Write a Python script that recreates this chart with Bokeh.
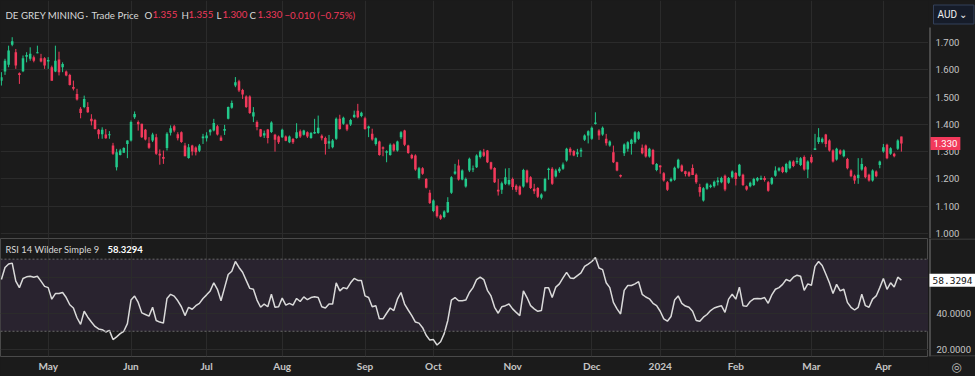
from bokeh.plotting import figure
from bokeh.layouts import column, row
from bokeh.models import (Range1d, FixedTicker, BoxAnnotation, Span, Label,
                          ColumnDataSource)
from bokeh.core.properties import value
from bokeh.embed import file_html
from bokeh.resources import INLINE

# ---------------- data ----------------
opens = [
    1.560, 1.593, 1.618, 1.691, 1.664, 1.587, 1.594, 1.647, 1.640, 1.646,
    1.660, 1.642, 1.642, 1.630, 1.609, 1.593, 1.637, 1.609, 1.593, 1.581,
    1.537, 1.511, 1.457, 1.463, 1.463, 1.420, 1.416, 1.380, 1.364, 1.363,
    1.360, 1.322, 1.243, 1.288, 1.296, 1.328, 1.341, 1.426, 1.408, 1.402,
    1.380, 1.331, 1.341, 1.353, 1.292, 1.280, 1.313, 1.369, 1.393, 1.364,
    1.371, 1.322, 1.277, 1.322, 1.315, 1.303, 1.349, 1.349, 1.371, 1.377,
    1.393, 1.352, 1.376, 1.420, 1.461, 1.542, 1.558, 1.526, 1.502, 1.502,
    1.429, 1.408, 1.382, 1.359, 1.381, 1.372, 1.362, 1.355, 1.353, 1.355,
    1.334, 1.346, 1.350, 1.375, 1.362, 1.371, 1.350, 1.366, 1.368, 1.358,
    1.350, 1.330, 1.316, 1.347, 1.420, 1.402, 1.398, 1.399, 1.426, 1.450,
    1.430, 1.422, 1.386, 1.365, 1.328, 1.337, 1.316, 1.296, 1.288, 1.326,
    1.304, 1.353, 1.377, 1.322, 1.288, 1.286, 1.203, 1.239, 1.200, 1.149,
    1.082, 1.100, 1.066, 1.060, 1.078, 1.149, 1.219, 1.249, 1.198, 1.172,
    1.231, 1.234, 1.243, 1.280, 1.298, 1.304, 1.261, 1.240, 1.160, 1.160,
    1.182, 1.180, 1.200, 1.175, 1.172, 1.172, 1.231, 1.206, 1.164, 1.167,
    1.131, 1.157, 1.233, 1.237, 1.209, 1.228, 1.237, 1.267, 1.310, 1.302,
    1.290, 1.300, 1.343, 1.359, 1.347, 1.401, 1.377, 1.363, 1.347, 1.322,
    1.298, 1.261, 1.214, 1.294, 1.310, 1.328, 1.334, 1.347, 1.314, 1.322,
    1.282, 1.306, 1.233, 1.249, 1.221, 1.188, 1.192, 1.197, 1.241, 1.249,
    1.228, 1.224, 1.240, 1.215, 1.170, 1.121, 1.164, 1.170, 1.173, 1.188,
    1.188, 1.212, 1.186, 1.206, 1.222, 1.212, 1.215, 1.173, 1.173, 1.178,
    1.194, 1.198, 1.203, 1.188, 1.182, 1.212, 1.231, 1.243, 1.225, 1.239,
    1.264, 1.261, 1.251, 1.280, 1.234, 1.280, 1.306, 1.335, 1.335, 1.363,
    1.341, 1.304, 1.271, 1.304, 1.283, 1.273, 1.231, 1.212, 1.203, 1.234,
    1.243, 1.215, 1.194, 1.227, 1.251, 1.300, 1.325, 1.292, 1.292, 1.310,
    1.355,
]
highs = [
    1.591, 1.640, 1.688, 1.719, 1.676, 1.590, 1.652, 1.664, 1.682, 1.652,
    1.688, 1.658, 1.646, 1.646, 1.615, 1.688, 1.666, 1.627, 1.597, 1.585,
    1.560, 1.530, 1.463, 1.505, 1.481, 1.437, 1.420, 1.383, 1.389, 1.383,
    1.375, 1.332, 1.310, 1.310, 1.316, 1.341, 1.414, 1.447, 1.414, 1.402,
    1.383, 1.353, 1.369, 1.365, 1.308, 1.304, 1.371, 1.396, 1.398, 1.371,
    1.374, 1.332, 1.328, 1.325, 1.319, 1.328, 1.365, 1.371, 1.383, 1.420,
    1.398, 1.359, 1.398, 1.465, 1.487, 1.573, 1.563, 1.530, 1.506, 1.506,
    1.463, 1.414, 1.383, 1.377, 1.383, 1.411, 1.365, 1.359, 1.384, 1.359,
    1.359, 1.350, 1.404, 1.381, 1.380, 1.374, 1.372, 1.420, 1.432, 1.363,
    1.355, 1.361, 1.346, 1.425, 1.435, 1.428, 1.402, 1.420, 1.450, 1.475,
    1.446, 1.428, 1.395, 1.384, 1.352, 1.340, 1.319, 1.305, 1.330, 1.330,
    1.340, 1.375, 1.380, 1.325, 1.292, 1.290, 1.244, 1.243, 1.203, 1.160,
    1.125, 1.104, 1.070, 1.085, 1.133, 1.210, 1.255, 1.271, 1.235, 1.205,
    1.278, 1.249, 1.290, 1.305, 1.310, 1.306, 1.263, 1.243, 1.200, 1.190,
    1.238, 1.240, 1.205, 1.180, 1.176, 1.237, 1.234, 1.210, 1.182, 1.170,
    1.147, 1.204, 1.241, 1.243, 1.237, 1.243, 1.260, 1.314, 1.316, 1.306,
    1.310, 1.314, 1.363, 1.378, 1.392, 1.444, 1.382, 1.392, 1.365, 1.341,
    1.322, 1.263, 1.216, 1.330, 1.338, 1.347, 1.375, 1.375, 1.326, 1.326,
    1.314, 1.310, 1.258, 1.250, 1.225, 1.192, 1.205, 1.245, 1.274, 1.253,
    1.230, 1.228, 1.253, 1.220, 1.182, 1.170, 1.186, 1.180, 1.194, 1.206,
    1.208, 1.216, 1.207, 1.231, 1.225, 1.255, 1.219, 1.176, 1.190, 1.204,
    1.207, 1.212, 1.210, 1.192, 1.207, 1.246, 1.243, 1.246, 1.259, 1.268,
    1.268, 1.279, 1.280, 1.286, 1.268, 1.289, 1.365, 1.386, 1.352, 1.365,
    1.345, 1.308, 1.314, 1.308, 1.308, 1.277, 1.235, 1.216, 1.276, 1.276,
    1.247, 1.219, 1.235, 1.231, 1.267, 1.328, 1.329, 1.316, 1.296, 1.345,
    1.355,
]
lows = [
    1.542, 1.581, 1.609, 1.686, 1.603, 1.548, 1.591, 1.627, 1.633, 1.627,
    1.660, 1.627, 1.603, 1.603, 1.560, 1.591, 1.579, 1.591, 1.576, 1.542,
    1.524, 1.487, 1.422, 1.459, 1.442, 1.396, 1.381, 1.347, 1.347, 1.347,
    1.347, 1.288, 1.231, 1.286, 1.296, 1.276, 1.337, 1.420, 1.377, 1.350,
    1.341, 1.310, 1.335, 1.288, 1.252, 1.255, 1.304, 1.359, 1.371, 1.341,
    1.332, 1.283, 1.274, 1.286, 1.286, 1.298, 1.328, 1.337, 1.359, 1.374,
    1.359, 1.340, 1.361, 1.418, 1.457, 1.536, 1.518, 1.493, 1.460, 1.438,
    1.408, 1.378, 1.353, 1.350, 1.330, 1.368, 1.300, 1.328, 1.350, 1.338,
    1.331, 1.328, 1.347, 1.350, 1.359, 1.350, 1.347, 1.365, 1.365, 1.341,
    1.289, 1.310, 1.312, 1.343, 1.380, 1.398, 1.375, 1.394, 1.424, 1.422,
    1.426, 1.380, 1.353, 1.340, 1.322, 1.285, 1.283, 1.261, 1.285, 1.300,
    1.300, 1.346, 1.320, 1.292, 1.272, 1.230, 1.198, 1.215, 1.165, 1.108,
    1.078, 1.058, 1.050, 1.056, 1.075, 1.145, 1.215, 1.194, 1.195, 1.168,
    1.225, 1.225, 1.240, 1.275, 1.280, 1.258, 1.233, 1.185, 1.139, 1.145,
    1.178, 1.176, 1.160, 1.152, 1.140, 1.168, 1.184, 1.163, 1.145, 1.130,
    1.125, 1.153, 1.197, 1.178, 1.205, 1.222, 1.233, 1.263, 1.286, 1.283,
    1.280, 1.280, 1.339, 1.330, 1.343, 1.399, 1.343, 1.358, 1.322, 1.318,
    1.258, 1.228, 1.205, 1.284, 1.300, 1.289, 1.329, 1.343, 1.290, 1.278,
    1.278, 1.251, 1.228, 1.219, 1.190, 1.156, 1.188, 1.193, 1.237, 1.225,
    1.209, 1.207, 1.214, 1.182, 1.135, 1.117, 1.160, 1.166, 1.168, 1.176,
    1.184, 1.155, 1.182, 1.202, 1.176, 1.208, 1.174, 1.157, 1.169, 1.174,
    1.190, 1.196, 1.190, 1.153, 1.178, 1.208, 1.227, 1.221, 1.221, 1.235,
    1.243, 1.255, 1.247, 1.230, 1.203, 1.257, 1.306, 1.328, 1.330, 1.316,
    1.300, 1.260, 1.267, 1.288, 1.279, 1.235, 1.206, 1.182, 1.182, 1.230,
    1.202, 1.190, 1.190, 1.206, 1.239, 1.296, 1.272, 1.288, 1.279, 1.306,
    1.300,
]
closes = [
    1.572, 1.633, 1.670, 1.704, 1.615, 1.581, 1.642, 1.654, 1.658, 1.633,
    1.664, 1.630, 1.615, 1.636, 1.560, 1.633, 1.591, 1.621, 1.579, 1.544,
    1.530, 1.491, 1.441, 1.493, 1.444, 1.411, 1.383, 1.364, 1.380, 1.349,
    1.364, 1.292, 1.298, 1.304, 1.313, 1.341, 1.408, 1.438, 1.400, 1.353,
    1.344, 1.314, 1.363, 1.292, 1.286, 1.274, 1.365, 1.386, 1.377, 1.349,
    1.335, 1.283, 1.316, 1.300, 1.298, 1.322, 1.355, 1.359, 1.380, 1.405,
    1.363, 1.340, 1.383, 1.463, 1.478, 1.554, 1.524, 1.509, 1.463, 1.441,
    1.444, 1.390, 1.355, 1.367, 1.350, 1.407, 1.343, 1.334, 1.380, 1.340,
    1.355, 1.334, 1.371, 1.355, 1.377, 1.355, 1.368, 1.372, 1.387, 1.349,
    1.328, 1.338, 1.341, 1.420, 1.383, 1.424, 1.381, 1.416, 1.435, 1.426,
    1.442, 1.383, 1.392, 1.344, 1.349, 1.288, 1.310, 1.301, 1.325, 1.304,
    1.337, 1.371, 1.325, 1.295, 1.276, 1.234, 1.239, 1.219, 1.168, 1.112,
    1.121, 1.063, 1.054, 1.081, 1.115, 1.206, 1.227, 1.198, 1.231, 1.200,
    1.274, 1.238, 1.286, 1.300, 1.285, 1.261, 1.237, 1.188, 1.154, 1.184,
    1.206, 1.196, 1.170, 1.160, 1.143, 1.233, 1.188, 1.167, 1.155, 1.135,
    1.143, 1.200, 1.237, 1.182, 1.231, 1.237, 1.253, 1.310, 1.298, 1.286,
    1.298, 1.307, 1.359, 1.375, 1.387, 1.407, 1.359, 1.387, 1.331, 1.337,
    1.261, 1.231, 1.209, 1.326, 1.334, 1.343, 1.371, 1.371, 1.294, 1.282,
    1.310, 1.255, 1.255, 1.243, 1.194, 1.160, 1.200, 1.241, 1.270, 1.228,
    1.218, 1.212, 1.214, 1.188, 1.151, 1.166, 1.182, 1.176, 1.190, 1.194,
    1.203, 1.161, 1.203, 1.227, 1.200, 1.252, 1.178, 1.161, 1.186, 1.200,
    1.203, 1.203, 1.196, 1.157, 1.203, 1.231, 1.239, 1.225, 1.255, 1.264,
    1.247, 1.266, 1.276, 1.234, 1.264, 1.261, 1.312, 1.353, 1.347, 1.328,
    1.304, 1.264, 1.310, 1.292, 1.304, 1.239, 1.210, 1.194, 1.215, 1.255,
    1.206, 1.194, 1.231, 1.210, 1.264, 1.316, 1.276, 1.312, 1.283, 1.341,
    1.330,
]
rsi = [
    58.7, 65.4, 67.3, 67.8, 57.8, 54.2, 59.3, 60.2, 60.5, 60.0,
    60.5, 57.8, 54.9, 54.2, 47.8, 50.9, 50.9, 51.5, 48.7, 44.7,
    42.9, 37.5, 33.8, 41.1, 37.8, 35.1, 32.7, 31.3, 30.9, 29.6,
    30.5, 25.4, 26.9, 28.7, 30.0, 34.2, 47.3, 49.5, 46.0, 40.2,
    39.3, 38.4, 43.3, 36.0, 35.1, 34.5, 48.2, 50.5, 49.5, 46.9,
    43.6, 38.7, 43.3, 42.2, 44.2, 45.5, 48.2, 50.2, 52.4, 56.9,
    53.3, 46.9, 54.2, 61.5, 63.3, 68.7, 65.4, 62.7, 58.2, 53.8,
    53.3, 47.3, 43.3, 45.1, 43.6, 50.5, 43.3, 43.6, 48.4, 44.5,
    45.5, 44.5, 48.2, 46.5, 49.1, 47.5, 48.7, 49.1, 48.7, 43.6,
    42.9, 45.1, 45.1, 56.9, 52.4, 54.2, 53.6, 56.9, 59.3, 58.2,
    58.2, 49.6, 48.7, 43.6, 44.2, 36.9, 36.9, 40.0, 42.9, 41.5,
    47.8, 51.5, 45.1, 41.8, 38.7, 35.1, 34.5, 32.0, 27.8, 25.1,
    25.4, 22.4, 24.2, 28.7, 36.0, 47.3, 48.7, 46.9, 46.9, 47.3,
    51.5, 54.2, 58.7, 60.0, 58.7, 52.7, 49.6, 43.3, 40.0, 43.6,
    44.2, 45.1, 42.4, 40.5, 38.7, 52.4, 48.7, 44.2, 42.4, 41.1,
    41.5, 54.2, 54.2, 48.7, 54.5, 56.3, 59.6, 62.7, 59.6, 59.3,
    60.9, 62.4, 66.0, 67.3, 68.7, 70.9, 65.1, 64.2, 56.9, 54.2,
    46.0, 42.4, 39.6, 52.7, 55.4, 55.4, 56.3, 57.5, 50.5, 49.0,
    48.0, 45.5, 44.2, 41.1, 36.9, 35.6, 38.2, 47.3, 49.6, 45.5,
    44.0, 43.3, 41.1, 36.0, 35.6, 37.8, 39.3, 41.5, 42.9, 43.6,
    44.2, 40.5, 47.8, 50.5, 47.8, 54.5, 44.2, 43.8, 46.5, 48.0,
    48.2, 48.0, 48.7, 45.5, 50.2, 53.3, 54.2, 56.0, 58.7, 57.8,
    60.0, 61.1, 60.5, 52.7, 56.3, 55.5, 66.0, 68.7, 66.5, 61.8,
    56.9, 50.9, 56.0, 52.4, 53.3, 46.0, 43.3, 41.8, 43.3, 50.5,
    44.2, 43.3, 47.8, 49.6, 54.2, 59.3, 53.3, 56.9, 54.5, 60.0,
    58.3294,
]
month_labels = ["May", "Jun", "Jul", "Aug", "Sep", "Oct", "Nov", "Dec",
                "2024", "Feb", "Mar", "Apr"]
month_index = [13, 36, 57, 78, 101, 120, 142, 164, 183, 204, 225, 245]
price_ticks = [1.0, 1.1, 1.2, 1.3, 1.4, 1.5, 1.6, 1.7]
rsi_ticks = [20, 40, 60]
rsi_label_ticks = [20, 40]
rsi_levels = [30, 70]

# ---------------- styling ----------------
BG = "#1b1b1b"
GRID = "#2b2b2b"
UP = "#22c98b"
DN = "#f2395b"
AXT = "#c6c6c6"
SEP = "#4a4a4a"
FONT = "Lato"
AXFONT = "Roboto"

n = min(len(opens), len(highs), len(lows), len(closes))
xs = list(range(n))
is_up = [closes[i] >= opens[i] for i in xs]
tops = [max(opens[i], closes[i]) for i in xs]
bots = [min(opens[i], closes[i]) for i in xs]
tops = [t if t - b > 0.004 else b + 0.004 for t, b in zip(tops, bots)]
src = ColumnDataSource(dict(x=xs, top=tops, bottom=bots, high=highs[:n],
                            low=lows[:n], color=[UP if u else DN for u in is_up]))

MAIN_W, SIDE_W = 928, 47
TOP_H, BOT_H = 238, 138
xr = Range1d(-0.25, -0.25 + MAIN_W / 3.6)
pyr = Range1d(0.9817, 1.8535)
ryr = Range1d(16.0, 81.46)

common = dict(output_backend="svg", toolbar_location=None,
              min_border_left=0, min_border_right=0, min_border_top=0,
              background_fill_color=BG, border_fill_color=BG)

# ---------------- price pane ----------------
p = figure(width=MAIN_W, height=TOP_H, x_range=xr, y_range=pyr,
           x_axis_location=None, y_axis_location=None, min_border_bottom=0,
           outline_line_color=None, **common)
p.segment(x0="x", x1="x", y0="low", y1="high", color="color", line_width=1, source=src)
p.vbar(x="x", width=0.7, top="top", bottom="bottom", fill_color="color",
       line_color=None, source=src)
p.ygrid.ticker = FixedTicker(ticks=price_ticks)
p.xgrid.ticker = FixedTicker(ticks=month_index)
p.grid.grid_line_color = GRID

title_parts = [
    (5, "DE GREY MINING", "#d8d8d8"), (85, "·", "#d8d8d8"), (91, "Trade Price", "#d8d8d8"),
    (144, "O", "#d8d8d8"), (152, f"{opens[-1]:.3f}", DN),
    (181, "H", "#d8d8d8"), (188, f"{highs[-1]:.3f}", DN),
    (216, "L", "#d8d8d8"), (222, f"{lows[-1]:.3f}", DN),
    (249, "C", "#d8d8d8"), (257, f"{closes[-1]:.3f}", DN),
    (284, "−0.010 (−0.75%)", DN),
]
for xpos, txt, col in title_parts:
    p.add_layout(Label(x=xpos, y=TOP_H - 14, x_units="screen", y_units="screen", text=txt,
                       text_color=col, text_font=FONT, text_font_size="9.7px",
                       text_baseline="middle"))

# price axis column
ps = figure(width=SIDE_W, height=TOP_H, x_range=Range1d(0, SIDE_W), y_range=pyr,
            x_axis_location=None, y_axis_location=None, min_border_bottom=0,
            outline_line_color=None, **common)
ps.grid.visible = False
ps.text(x=[7] * len(price_ticks), y=price_ticks, text=[f"{t:.3f}" for t in price_ticks],
        text_color=AXT, text_font=value(AXFONT), text_font_size="9.5px",
        text_baseline="middle")
px_per_unit = TOP_H / (pyr.end - pyr.start)
ps.segment(x0=[1.5], x1=[1.5], y0=[pyr.start], y1=[pyr.end - 27 / px_per_unit],
           line_color=SEP, line_width=2)
ps.add_layout(Label(x=2, y=closes[-1], x_units="data", y_units="data",
                    text=f"{closes[-1]:.3f}", text_color="white", text_font=AXFONT,
                    text_font_size="9.5px", text_baseline="middle",
                    background_fill_color=DN, padding=3))
ps.add_layout(Label(x=5, y=TOP_H - 14, x_units="screen", y_units="screen", text="AUD  ⌄",
                    text_color="#f0f0f0", text_font=AXFONT, text_font_size="10px",
                    text_baseline="middle", background_fill_color="#161c29",
                    border_line_color="#33405a", padding=4))

# ---------------- RSI pane ----------------
q = figure(width=MAIN_W, height=BOT_H, x_range=xr, y_range=ryr,
           x_axis_location="below", y_axis_location=None, min_border_bottom=18,
           outline_line_color=SEP, **common)
q.add_layout(BoxAnnotation(bottom=rsi_levels[0], top=rsi_levels[1], fill_color="#29232f",
                           fill_alpha=1.0, line_color=None, level="image"))
for lv in rsi_levels:
    q.add_layout(Span(location=lv, dimension="width", line_color="#6a6a6a",
                      line_dash="2 2", line_width=1))
q.line(list(range(len(rsi))), rsi, color="#dadada", line_width=1.5)
q.ygrid.ticker = FixedTicker(ticks=rsi_ticks)


def style_date_axis(ax):
    ax.axis_line_color = None
    ax.major_tick_line_color = None
    ax.minor_tick_line_color = None
    ax.major_tick_out = 0
    ax.major_tick_in = 0
    ax.minor_tick_out = 0
    ax.minor_tick_in = 0
    ax.major_label_standoff = 3


xa = q.xaxis[0]
xa.ticker = FixedTicker(ticks=month_index)
xa.major_label_overrides = {i: m for i, m in zip(month_index, month_labels)}
xa.major_label_text_color = AXT
xa.major_label_text_font = FONT
xa.major_label_text_font_size = "10px"
xa.major_label_text_font_style = "bold"
style_date_axis(xa)
q.xgrid.ticker = FixedTicker(ticks=month_index)
q.grid.grid_line_color = GRID

q.add_layout(Label(x=5, y=107, x_units="screen", y_units="screen",
                   text="RSI 14 Wilder Simple 9", text_color="#d8d8d8",
                   text_font=FONT, text_font_size="9.3px", text_baseline="middle"))
q.add_layout(Label(x=107, y=107, x_units="screen", y_units="screen",
                   text=f"{rsi[-1]:.4f}", text_color="#ffffff", text_font_style="bold",
                   text_font=FONT, text_font_size="9.5px", text_baseline="middle"))

# RSI axis column; the settings button sits in its date row as an axis label
qs = figure(width=SIDE_W, height=BOT_H, x_range=Range1d(0, SIDE_W), y_range=ryr,
            x_axis_location="below", y_axis_location=None, min_border_bottom=18,
            outline_line_color=None, **common)
qs.grid.visible = False
qs.text(x=[8] * len(rsi_label_ticks), y=rsi_label_ticks,
        text=[f"{t:.4f}" for t in rsi_label_ticks], text_color=AXT,
        text_font=value(AXFONT), text_font_size="9.5px", text_baseline="middle")
r_px = 120 / (ryr.end - ryr.start)
qs.add_layout(Span(location=1.5, dimension="height", line_color=SEP, line_width=2))
qs.add_layout(Span(location=ryr.start + 0.5 / r_px, dimension="width", line_color=SEP,
                   line_width=1))
qs.add_layout(Span(location=ryr.end - 0.5 / r_px, dimension="width", line_color=SEP,
                   line_width=1))
qs.add_layout(Label(x=1, y=rsi[-1], x_units="data", y_units="data",
                    text=f"{rsi[-1]:.4f}", text_color="#111111",
                    text_font="DejaVu Sans Mono", text_font_size="9.5px",
                    text_baseline="middle", background_fill_color="#ffffff", padding=3))
ga = qs.xaxis[0]
ga.ticker = FixedTicker(ticks=[28])
ga.major_label_overrides = {28: "◎"}
ga.major_label_text_color = "#bdbdbd"
ga.major_label_text_font = "DejaVu Sans"
ga.major_label_text_font_size = "12px"
style_date_axis(ga)

layout = column(row(p, ps, spacing=0), row(q, qs, spacing=0), spacing=0,
                styles={"background-color": BG})
open("out.html", "w").write(file_html(layout, INLINE))
